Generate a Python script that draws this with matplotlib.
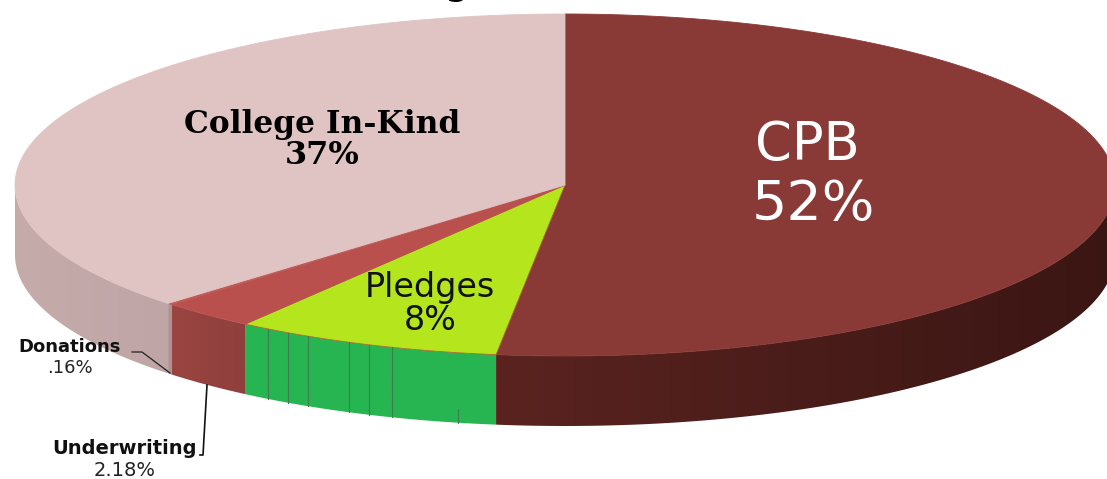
import matplotlib
matplotlib.use('Agg')
import matplotlib.pyplot as plt
import numpy as np
from matplotlib.colors import LinearSegmentedColormap
from matplotlib.patches import Polygon

# Slices, clockwise from 12 o'clock. Shares are what the drawing shows
names = ['CPB', 'Pledges', 'Underwriting', 'Donations', 'College In-Kind']
shares = [52, 7.88, 2.79, 0.16, 37.17]
labels = ['52%', '8%', '2.18%', '.16%', '37%']
top_colors = ['#8a3a36', '#b5e61d', '#b9504e', '#c05a58', '#e0c4c4']
edge_colors = ['#8a3a36', '#a8662e', '#b9504e', '#c05a58', '#e0c4c4']
# wall colours, [right end, left end]
side_colors = [['#3a1613', '#5a2320'], ['#27b552', '#27b552'], ['#8f3f3c', '#9a4542'],
               ['#b09090', '#b09090'], ['#bfa5a5', '#c6abab']]
# divider lines on the green wall (x in pixels)
green_lines = [268, 288, 308, 349, 369, 392]

# Ellipse geometry in image pixels
cx, cy = 565, 185
rx, ry = 550, 171
depth = 70


def rim(t):
    return cx + rx * np.sin(t), cy - ry * np.cos(t)


fig = plt.figure(figsize=(11.07, 4.79), dpi=100)
ax = fig.add_axes([0, 0, 1, 1])
ax.set_xlim(0, 1107)
ax.set_ylim(479, 0)
ax.axis('off')

edges = np.radians(np.cumsum([0] + shares) * 3.6)

for i in range(len(shares)):
    t = np.linspace(edges[i], edges[i + 1], 200)
    x, y = rim(t)

    # wall, only the front half of the ellipse shows
    t_wall = t[(t >= np.pi / 2) & (t <= 3 * np.pi / 2)]
    if len(t_wall) > 1:
        wx, wy = rim(t_wall)
        pts = np.r_[np.c_[wx, wy], np.c_[wx[::-1], wy[::-1] + depth]]
        poly = Polygon(pts, closed=True, fc='none', ec='none')
        ax.add_patch(poly)
        cmap = LinearSegmentedColormap.from_list('w', side_colors[i])
        im = ax.imshow(np.linspace(1, 0, 256)[None, :], cmap=cmap, aspect='auto', zorder=2,
                       extent=[wx.min(), wx.max(), wy.max() + depth, wy.min()])
        im.set_clip_path(poly)

    # top face
    top = np.r_[[[cx, cy]], np.c_[x, y]]
    ax.add_patch(Polygon(top, closed=True, fc=top_colors[i], ec=edge_colors[i], lw=0.6, zorder=3))

ax.set_xlim(0, 1107)
ax.set_ylim(479, 0)

# green wall dividers
for gx in green_lines:
    t = np.pi + np.arcsin((cx - gx) / rx)
    y0 = rim(t)[1]
    ax.plot([gx, gx], [y0, y0 + depth], color='#3f7d4c', lw=0.8, zorder=4)
t = np.pi + np.arcsin((cx - 458) / rx)
ax.plot([458, 458], [rim(t)[1] + 56, rim(t)[1] + depth], color='#3f7d4c', lw=0.8, zorder=4)

# leader lines
ax.plot([132, 142, 170], [352, 352, 373], color='#222222', lw=0.9, zorder=5)
ax.plot([207, 203, 200], [385, 455, 455], color='#111111', lw=1.2, zorder=5)

# labels
ax.text(322, 124, names[4], family='DejaVu Serif', weight='bold', fontsize=22.5, ha='center', va='center', color='black', zorder=6)
ax.text(322, 155, labels[4], family='DejaVu Serif', weight='bold', fontsize=23, ha='center', va='center', color='black', zorder=6)
ax.text(807, 145, names[0], family='DejaVu Sans', fontsize=38, ha='center', va='center', color='white', zorder=6)
ax.text(813, 205, labels[0], family='DejaVu Sans', fontsize=40, ha='center', va='center', color='white', zorder=6)
ax.text(430, 287, names[1], family='DejaVu Sans', fontsize=24, ha='center', va='center', color='#111111', zorder=6)
ax.text(430, 320, labels[1], family='DejaVu Sans', fontsize=24, ha='center', va='center', color='#111111', zorder=6)
ax.text(70, 347, names[3], family='DejaVu Sans', weight='bold', fontsize=13, ha='center', va='center', color='#111111', zorder=6)
ax.text(70, 368, labels[3], family='DejaVu Sans', fontsize=13, ha='center', va='center', color='#222222', zorder=6)
ax.text(125, 449, names[2], family='DejaVu Sans', weight='bold', fontsize=14, ha='center', va='center', color='#111111', zorder=6)
ax.text(125, 470, labels[2], family='DejaVu Sans', fontsize=14, ha='center', va='center', color='#222222', zorder=6)

# the title is cut off by the top of the picture, only this descender is left
ax.text(457, -7, 'g', family='DejaVu Sans', fontsize=30, ha='center', va='baseline', color='black', zorder=6)

fig.savefig('out.png', dpi=100)
